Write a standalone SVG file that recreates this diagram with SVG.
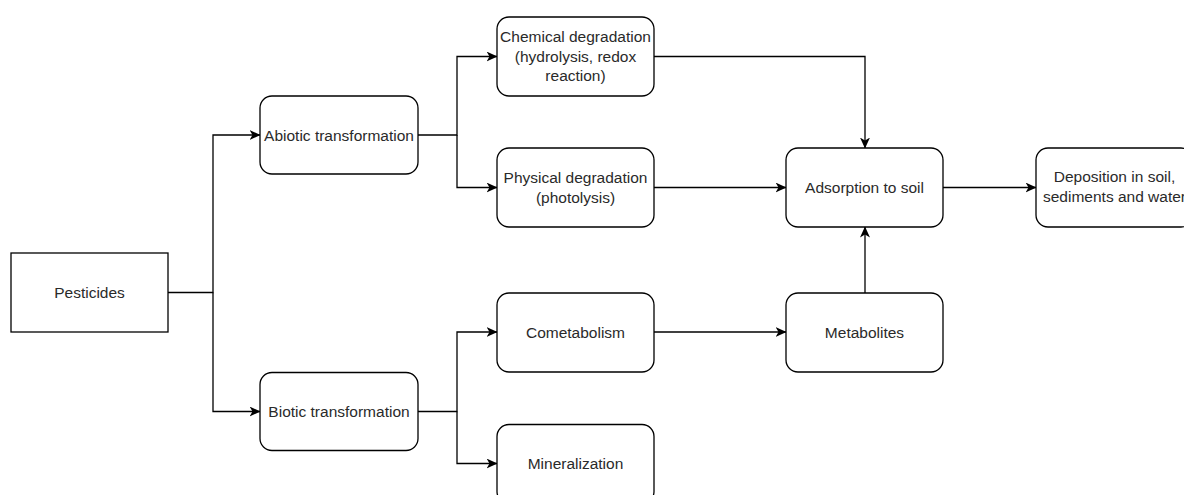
<svg xmlns="http://www.w3.org/2000/svg" width="1184" height="495" viewBox="0 0 1184 495">
<defs>
<style>
.box{fill:#fff;stroke:#000;stroke-width:1.3}
.t{font-family:"Liberation Sans",Arial,sans-serif;font-size:15.5px;fill:#2a2a2a;text-anchor:middle}
.c{fill:none;stroke:#000;stroke-width:1.3}
</style>
<marker id="ah" viewBox="0 0 11 10" refX="10.5" refY="5" markerWidth="11" markerHeight="10" markerUnits="userSpaceOnUse" orient="auto">
<path d="M0,0 L11,5 L0,10 L3,5 Z" fill="#000"/>
</marker>
</defs>
<rect width="1184" height="495" fill="#fff"/>
<g id="connectors">
<path class="c" d="M168,292.5 H213 V135 H260" marker-end="url(#ah)"/>
<path class="c" d="M213,292.5 V411.5 H260" marker-end="url(#ah)"/>
<path class="c" d="M418,135 H457 V56.5 H497" marker-end="url(#ah)"/>
<path class="c" d="M457,135 V187.5 H497" marker-end="url(#ah)"/>
<path class="c" d="M418,411.5 H457 V332 H497" marker-end="url(#ah)"/>
<path class="c" d="M457,411.5 V463.5 H497" marker-end="url(#ah)"/>
<path class="c" d="M654,56.5 H865 V148" marker-end="url(#ah)"/>
<path class="c" d="M654,187.5 H786" marker-end="url(#ah)"/>
<path class="c" d="M943,187.5 H1036" marker-end="url(#ah)"/>
<path class="c" d="M654,332 H786" marker-end="url(#ah)"/>
<path class="c" d="M865,293 V227" marker-end="url(#ah)"/>
</g>
<g id="pesticides">
<rect class="box" x="11" y="253" width="157" height="79"/>
<text class="t" x="89.5" y="298">Pesticides</text>
</g>
<g id="abiotic">
<rect class="box" x="260" y="96" width="158" height="78" rx="12"/>
<text class="t" x="339" y="140.5">Abiotic transformation</text>
</g>
<g id="biotic">
<rect class="box" x="260" y="372.5" width="158" height="78" rx="12"/>
<text class="t" x="339" y="417">Biotic transformation</text>
</g>
<g id="chemical">
<rect class="box" x="497" y="17" width="157" height="79" rx="12"/>
<text class="t" x="575.5" y="42">Chemical degradation</text>
<text class="t" x="575.5" y="61.5">(hydrolysis, redox</text>
<text class="t" x="575.5" y="81">reaction)</text>
</g>
<g id="physical">
<rect class="box" x="497" y="148" width="157" height="79" rx="12"/>
<text class="t" x="575.5" y="183">Physical degradation</text>
<text class="t" x="575.5" y="202.5">(photolysis)</text>
</g>
<g id="cometabolism">
<rect class="box" x="497" y="293" width="157" height="79" rx="12"/>
<text class="t" x="575.5" y="337.5">Cometabolism</text>
</g>
<g id="mineralization">
<rect class="box" x="497" y="424.5" width="157" height="79" rx="12"/>
<text class="t" x="575.5" y="469">Mineralization</text>
</g>
<g id="adsorption">
<rect class="box" x="786" y="148" width="157" height="79" rx="12"/>
<text class="t" x="864.5" y="193">Adsorption to soil</text>
</g>
<g id="metabolites">
<rect class="box" x="786" y="293" width="157" height="79" rx="12"/>
<text class="t" x="864.5" y="337.5">Metabolites</text>
</g>
<g id="deposition">
<rect class="box" x="1036" y="148" width="157" height="79" rx="12"/>
<text class="t" x="1114.5" y="182">Deposition in soil,</text>
<text class="t" x="1114.5" y="201.5">sediments and water</text>
</g>
</svg>
